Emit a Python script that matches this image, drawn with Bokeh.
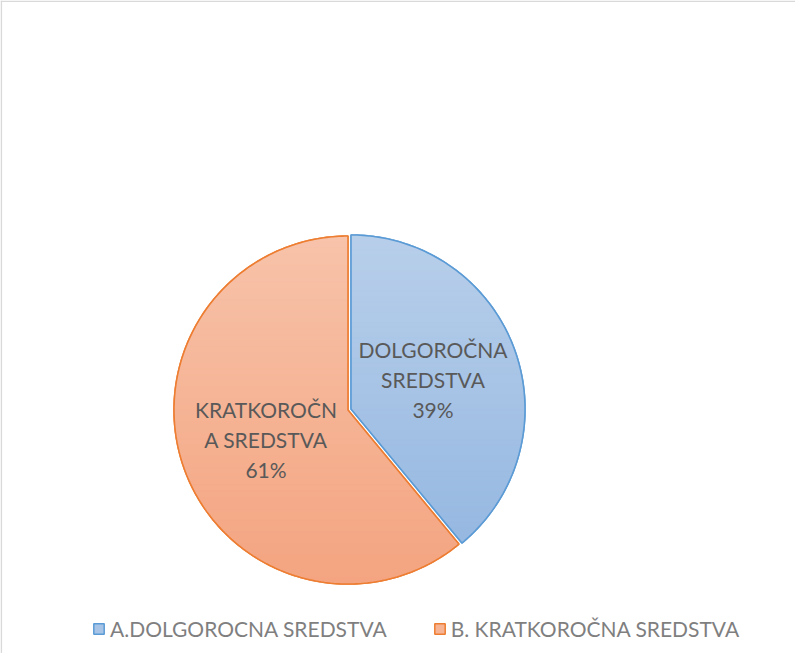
import numpy as np
from bokeh.plotting import figure
from bokeh.models import Range1d, Legend, LegendItem, Span, ColumnDataSource
from bokeh.core.properties import value
from bokeh.embed import file_html
from bokeh.resources import INLINE

# ---- data ----
categories = ["A.DOLGOROCNA SREDSTVA", "B. KRATKOROČNA SREDSTVA"]
slice_names = ["DOLGOROČNA\nSREDSTVA", "KRATKOROČN\nA SREDSTVA"]
values = [39, 61]

# ---- style ----
fill_top = ["#B8CFEA", "#F7C3AA"]
fill_bottom = ["#96B8E1", "#F4A480"]
line_colors = ["#5B9BD5", "#ED7D31"]
W, H = 795, 653
CX, CY, R = 349.0, 244.0, 174.0
EXPLODE = 1.6
N_STRIPS = 60


def hex2rgb(h):
    h = h.lstrip("#")
    return np.array([int(h[i:i + 2], 16) for i in (0, 2, 4)], dtype=float)


def blend(a, b, t):
    c = hex2rgb(a) * (1 - t) + hex2rgb(b) * t
    return "#%02X%02X%02X" % tuple(int(round(v)) for v in c)


def clip_half(poly, y0, keep_above):
    out = []
    n = len(poly)
    for i in range(n):
        cur, prev = poly[i], poly[i - 1]
        cin = cur[1] >= y0 if keep_above else cur[1] <= y0
        pin = prev[1] >= y0 if keep_above else prev[1] <= y0
        if cin != pin:
            t = (y0 - prev[1]) / (cur[1] - prev[1])
            out.append((prev[0] + t * (cur[0] - prev[0]), y0))
        if cin:
            out.append(cur)
    return out


p = figure(width=W, height=H, x_range=Range1d(0, W), y_range=Range1d(0, H),
           output_backend="svg", toolbar_location=None, min_border=0)
p.axis.visible = False
p.xgrid.visible = False
p.ygrid.visible = False
p.outline_line_color = None
p.background_fill_color = "white"
p.border_fill_color = "white"

total = float(sum(values))
fracs = [v / total for v in values]
starts = np.cumsum([0.0] + fracs[:-1])

base_renderers = []
label_x, label_y, label_t = [], [], []
for i, f in enumerate(fracs):
    a0 = 2 * np.pi * starts[i]
    a1 = 2 * np.pi * (starts[i] + f)
    bis = (a0 + a1) / 2
    ox, oy = EXPLODE * np.sin(bis), EXPLODE * np.cos(bis)
    cx, cy = CX + ox, CY + oy
    angs = np.linspace(a0, a1, max(8, int(np.degrees(a1 - a0))))
    px = [cx] + list(cx + R * np.sin(angs))
    py = [cy] + list(cy + R * np.cos(angs))
    poly = list(zip(px, py))

    # base (legend) patch
    mid = blend(fill_top[i], fill_bottom[i], 0.5)
    br = p.patches(xs=[px], ys=[py], fill_color=mid, line_color=line_colors[i], line_width=1.5)
    base_renderers.append(br)

    # gradient strips
    ymin, ymax = min(py), max(py)
    edges = np.linspace(ymax, ymin, N_STRIPS + 1)
    sx, sy, sc = [], [], []
    for k in range(N_STRIPS):
        top, bot = edges[k], edges[k + 1]
        q = clip_half(poly, bot, True)
        q = clip_half(q, top, False) if q else q
        if len(q) < 3:
            continue
        t = (k + 0.5) / N_STRIPS
        sx.append([pt[0] for pt in q])
        sy.append([pt[1] for pt in q])
        sc.append(blend(fill_top[i], fill_bottom[i], t))
    src = ColumnDataSource(dict(xs=sx, ys=sy, c=sc))
    p.patches(xs="xs", ys="ys", fill_color="c", line_color="c", line_width=1, source=src)

    # outline
    p.patches(xs=[px], ys=[py], fill_color=None, line_color=line_colors[i], line_width=1.6)

    lr = 0.51 * R
    label_x.append(CX + lr * np.sin(bis))
    label_y.append(CY + lr * np.cos(bis))
    label_t.append("%s\n%d%%" % (slice_names[i], round(f * 100)))

lsrc = ColumnDataSource(dict(x=label_x, y=label_y, t=label_t))
p.text(x="x", y="y", text="t", source=lsrc, text_align="center", text_baseline="middle",
       text_font=value("Lato"), text_font_size="21px", text_color="#595959",
       text_line_height=1.2)

legend = Legend(items=[LegendItem(label=categories[i], renderers=[base_renderers[i]])
                       for i in range(len(categories))],
                orientation="horizontal", location=(92, 12),
                glyph_width=13, glyph_height=13, label_standoff=5, spacing=46,
                padding=0, margin=0, border_line_color=None, background_fill_alpha=0,
                label_text_font="Lato", label_text_font_size="21px",
                label_text_color="#7F7F7F")
p.add_layout(legend)

p.add_layout(Span(location=0.8, dimension="height", line_color="#D9D9D9", line_width=1.6))
p.add_layout(Span(location=H - 0.8, dimension="width", line_color="#D9D9D9", line_width=1.6))

open("out.html", "w").write(file_html(p, INLINE))
